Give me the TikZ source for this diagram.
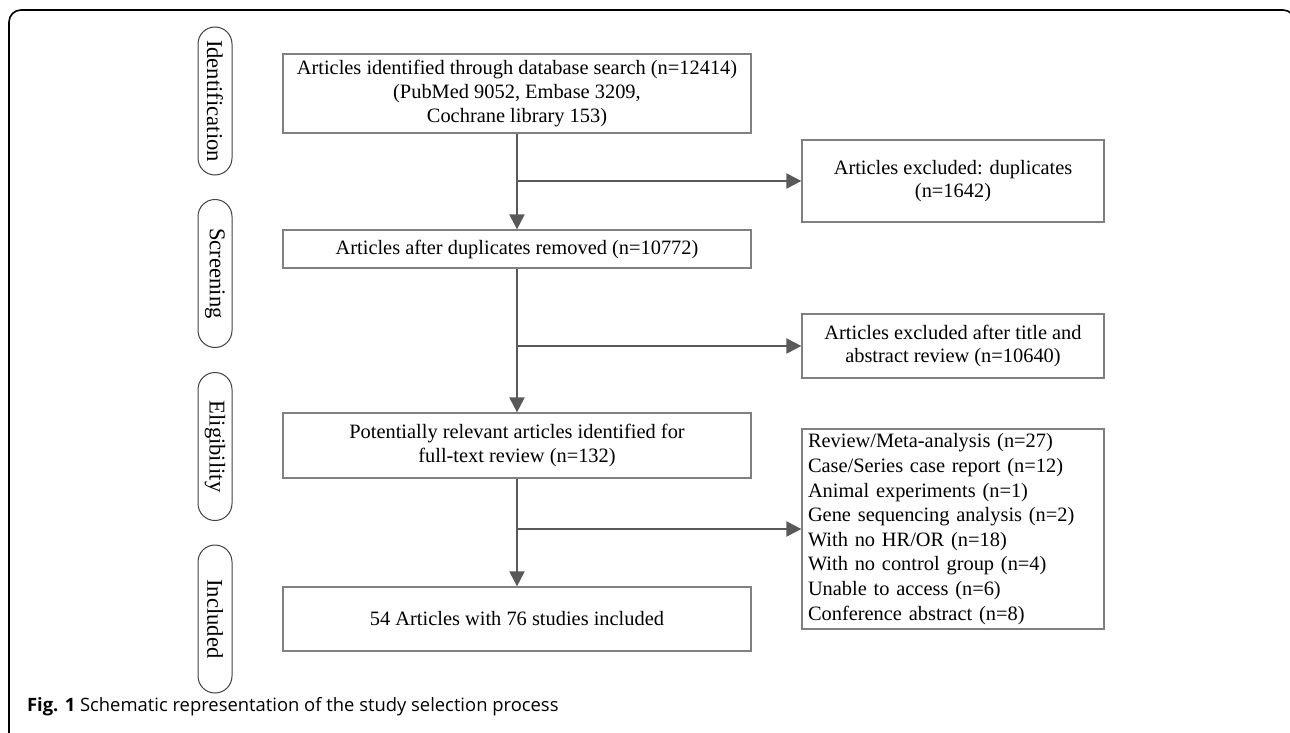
\documentclass[tikz,border=0pt]{standalone}
\usepackage{fontspec}
\setmainfont{Liberation Serif}
\newfontfamily\capfont{Open Sans}
\usetikzlibrary{arrows.meta, positioning}
\definecolor{fline}{HTML}{595959}
\definecolor{fbox}{HTML}{808080}
\definecolor{fpill}{HTML}{404040}
\tikzset{
  stage/.style={draw=fpill, line width=0.5pt, rounded corners=8.5pt, rotate=-90,
                minimum width=74pt, minimum height=17pt, inner sep=0pt,
                font=\fontsize{11.3}{13}\selectfont},
  flowbox/.style={draw=fbox, line width=0.6pt, minimum width=234pt, align=center,
                  inner sep=0pt, font=\fontsize{10.2}{11.8}\selectfont},
  exbox/.style={draw=fbox, line width=0.6pt, minimum width=151pt, align=center,
                inner sep=0pt, font=\fontsize{10.2}{11.8}\selectfont},
  arr/.style={-{Triangle[length=7.5pt,width=7.5pt]}, line width=1pt, fline},
}
\begin{document}
\begin{tikzpicture}[x=0.5pt, y=-0.5pt,
    listbox/.style={exbox, align=left, text width=145pt, inner xsep=3pt,
                    font=\fontsize{10.2}{12.3}\selectfont}]
  \useasboundingbox (0,0) rectangle (1290,733);
  \draw[line width=0.8pt, rounded corners=6pt] (9,733) -- (9,10) -- (1295,10) -- (1295,733);

  \node[stage] (sid) at (215,101)   {Identification};
  \node[stage] (ssc) at (215,273.5) {Screening};
  \node[stage] (sel) at (215,446.5) {Eligibility};
  \node[stage] (sin) at (215,619)   {Included};

  \node[flowbox, minimum height=39.5pt] (ident) at (517,93.5) {Articles identified through database search (n=12414)\\(PubMed 9052, Embase 3209,\\Cochrane library 153)};
  \node[flowbox, minimum height=19pt] (dedup) at (517,249) {Articles after duplicates removed (n=10772)};
  \node[flowbox, minimum height=32.5pt] (full) at (517,445.5) {Potentially relevant articles identified for\\full-text review (n=132)};
  \node[flowbox, minimum height=32pt] (incl) at (517,619) {54 Articles with 76 studies included};

  \node[exbox, minimum height=41pt] (exdup) at (953,181) {Articles excluded: duplicates\\(n=1642)};
  \node[exbox, minimum height=32pt] (exabs) at (953,346) {Articles excluded after title and\\abstract review (n=10640)};
  \node[listbox, minimum height=100pt] (exfull) at (953,529) {Review/Meta-analysis (n=27)\\Case/Series case report (n=12)\\Animal experiments (n=1)\\Gene sequencing analysis (n=2)\\With no HR/OR (n=18)\\With no control group (n=4)\\Unable to access (n=6)\\Conference abstract (n=8)};

  \draw[arr] (ident) -- (dedup);
  \draw[arr] (dedup) -- (full);
  \draw[arr] (full) -- (incl);
  \draw[arr] (ident.south |- exdup.west) -- (exdup.west);
  \draw[arr] (dedup.south |- exabs.west) -- (exabs.west);
  \draw[arr] (full.south |- exfull.west) -- (exfull.west);

  \node[anchor=west, font=\capfont\fontsize{9.2}{11}\selectfont] (cap) at (20,707) {\textbf{Fig. 1} Schematic representation of the study selection process};
\end{tikzpicture}
\end{document}
